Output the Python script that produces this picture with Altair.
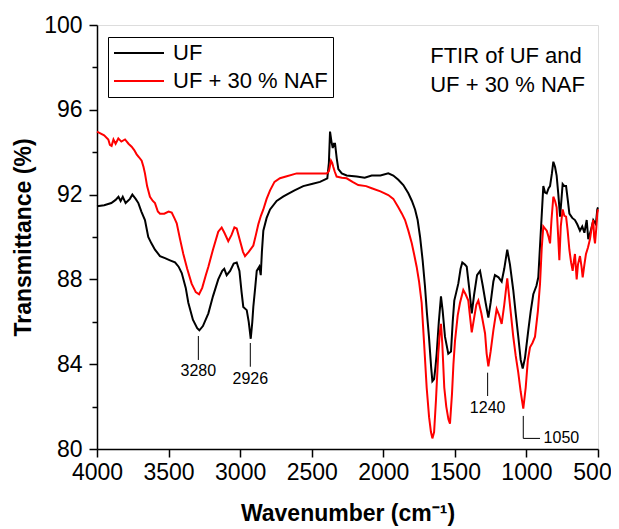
import altair as alt
import pandas as pd

# ---------------- data ----------------
uf_wn = [4000, 3950, 3900, 3870, 3850, 3835, 3820, 3800, 3770, 3753, 3730, 3711, 3690, 3665, 3642,
         3620, 3595, 3560, 3525, 3490, 3455, 3430, 3408, 3380, 3362, 3330, 3300, 3285, 3260, 3222,
         3190, 3153, 3125, 3111, 3094, 3070, 3045, 3024, 3005, 2990, 2978, 2954, 2940, 2926, 2915,
         2908, 2895, 2884, 2866, 2856, 2848, 2838, 2815, 2791, 2745, 2700, 2675, 2620, 2559, 2500,
         2442, 2391, 2380, 2372, 2362, 2353, 2345, 2337, 2325, 2314, 2290, 2256, 2186, 2130, 2081,
         2020, 1965, 1930, 1895, 1860, 1825, 1800, 1778, 1760, 1743, 1725, 1709, 1695, 1681, 1665,
         1657, 1645, 1635, 1627, 1612, 1597, 1585, 1569, 1546, 1527, 1515, 1504, 1490, 1476, 1460,
         1448, 1430, 1417, 1400, 1382, 1365, 1345, 1324, 1305, 1285, 1266, 1250, 1231, 1220, 1195,
         1173, 1155, 1134, 1115, 1092, 1075, 1057, 1040, 1026, 1010, 987, 970, 952, 930, 917,
         900, 882, 870, 858, 845, 835, 822, 812, 800, 789, 777, 765, 755, 747, 735,
         723, 712, 700, 680, 661, 645, 626, 610, 595, 579, 568, 550, 533, 515, 505, 500]
uf_t = [91.45, 91.5, 91.6, 91.75, 91.9, 91.7, 91.9, 91.6, 91.8, 92.0, 91.8, 91.6, 91.2, 90.8, 90.0,
        89.7, 89.4, 89.1, 89.0, 88.9, 88.8, 88.6, 88.3, 87.6, 86.9, 86.1, 85.7, 85.6, 85.8, 86.4,
        87.2, 88.0, 88.4, 88.5, 88.2, 88.4, 88.75, 88.8, 88.4, 87.4, 86.7, 86.55, 86.0, 85.2, 86.0,
        86.7, 87.6, 88.4, 88.6, 88.2, 89.3, 90.3, 90.9, 91.3, 91.7, 91.9, 92.0, 92.2, 92.4, 92.5,
        92.6, 92.77, 93.5, 94.97, 94.5, 94.2, 94.4, 94.4, 93.7, 93.2, 93.0, 92.9, 92.85, 92.8, 92.9,
        92.9, 93.0, 92.9, 92.7, 92.45, 92.06, 91.7, 91.3, 90.8, 90.0, 88.9, 87.7, 86.4, 85.3, 83.8,
        83.2, 83.3, 83.9, 84.5, 86.0, 87.2, 86.5, 85.3, 84.5, 84.6, 86.0, 87.0, 87.4, 87.8, 88.5,
        88.8, 88.7, 88.6, 87.6, 86.4, 87.3, 88.2, 88.4, 87.7, 86.9, 86.2, 86.9, 87.9, 88.2, 88.1,
        87.9, 88.5, 89.4, 88.7, 87.5, 86.4, 85.3, 84.2, 83.8, 84.3, 85.6, 86.5, 87.3, 87.7, 88.1,
        90.2, 92.4, 92.1, 92.06, 92.3, 92.4, 93.0, 93.55, 93.3, 92.9, 92.0, 90.96, 91.8, 92.5, 92.4,
        92.4, 91.8, 91.1, 90.9, 90.8, 90.6, 90.3, 90.5, 90.2, 90.8, 89.9, 90.3, 90.8, 90.6, 91.3, 91.4]

naf_wn = [4000, 3980, 3950, 3921, 3910, 3898, 3885, 3870, 3851, 3830, 3804, 3780, 3758, 3740, 3723,
          3705, 3688, 3675, 3665, 3650, 3630, 3610, 3595, 3575, 3560, 3530, 3500, 3478, 3460, 3443,
          3420, 3397, 3370, 3339, 3310, 3287, 3265, 3240, 3222, 3190, 3153, 3129, 3110, 3083, 3060,
          3040, 3024, 3000, 2980, 2966, 2940, 2908, 2890, 2873, 2855, 2838, 2815, 2791, 2760, 2722,
          2680, 2605, 2550, 2489, 2440, 2395, 2380, 2365, 2357, 2349, 2340, 2326, 2290, 2256, 2215,
          2175, 2120, 2081, 2020, 1965, 1930, 1895, 1870, 1848, 1825, 1801, 1785, 1767, 1750, 1732,
          1715, 1697, 1680, 1667, 1657, 1645, 1632, 1616, 1605, 1597, 1588, 1574, 1560, 1545, 1534,
          1520, 1510, 1499, 1480, 1464, 1441, 1425, 1406, 1395, 1382, 1365, 1350, 1336, 1315, 1289,
          1278, 1266, 1250, 1231, 1208, 1190, 1173, 1155, 1134, 1115, 1092, 1075, 1057, 1040, 1022,
          1005, 990, 975, 958, 940, 920, 905, 893, 882, 870, 858, 845, 835, 825, 812,
          800, 789, 778, 770, 760, 747, 735, 723, 712, 700, 688, 677, 668, 661, 655,
          649, 640, 626, 615, 607, 595, 584, 570, 556, 545, 533, 527, 521, 512, 505, 500]
naf_t = [94.97, 94.9, 94.8, 94.6, 94.35, 94.3, 94.6, 94.4, 94.65, 94.5, 94.6, 94.4, 94.26, 94.1, 93.9,
         93.75, 93.6, 93.3, 93.0, 92.4, 91.9, 91.7, 91.6, 91.2, 91.1, 91.1, 91.2, 91.15, 90.9, 90.65,
         89.9, 89.2, 88.5, 87.8, 87.4, 87.3, 87.6, 88.2, 88.6, 89.4, 90.25, 90.45, 90.2, 89.8, 90.1,
         90.45, 90.4, 89.8, 89.3, 89.1, 89.3, 89.6, 90.1, 90.6, 91.0, 91.3, 91.8, 92.2, 92.6, 92.77,
         92.85, 93.0, 93.0, 93.0, 93.0, 93.0, 93.1, 93.6, 93.5, 93.3, 93.1, 92.85, 92.8, 92.77, 92.6,
         92.45, 92.4, 92.3, 92.15, 91.98, 91.8, 91.4, 91.1, 90.8, 90.3, 89.7, 89.2, 88.6, 87.9, 86.9,
         85.0, 82.9, 81.5, 80.8, 80.5, 80.8, 82.3, 84.5, 85.5, 85.9, 85.0, 82.9, 82.0, 81.4, 81.2,
         82.6, 84.0, 85.1, 86.3, 86.9, 87.5, 87.3, 87.0, 86.3, 85.5, 86.2, 86.8, 87.0, 86.4, 85.45,
         84.5, 83.9, 84.6, 85.6, 86.6, 86.3, 85.9, 86.8, 88.05, 86.8, 85.3, 84.4, 83.6, 82.7, 81.9,
         82.9, 84.2, 84.8, 85.0, 85.3, 86.5, 87.8, 89.5, 90.5, 90.4, 90.3, 90.0, 89.7, 90.8, 91.9,
         91.7, 91.4, 90.0, 88.9, 90.5, 91.3, 91.0, 90.96, 90.3, 89.4, 88.8, 88.4, 88.9, 89.2, 88.6,
         88.0, 88.7, 89.1, 88.6, 88.1, 88.7, 89.2, 89.5, 89.9, 90.4, 90.8, 90.0, 89.7, 90.4, 91.1, 91.3]

series_names = ["UF", "UF + 30 % NAF"]
series_colors = ["#000000", "#ff0000"]

# peak annotations: label, position, line top/bottom, text baseline
ann_labels = ["3280", "2926", "1240"]
ann_wn = [3292, 2929, 1271]
ann_top = [85.33, 85.0, 83.6]
ann_bottom = [84.2, 83.88, 82.5]
ann_text_t = [83.45, 83.08, 81.72]

# bracket-style annotation for 1050
b_label = "1050"
b_wn = 1022
b_wn_end = 905
b_text_wn = 880
b_top = 81.56
b_bottom = 80.5

info_lines = ["FTIR of UF and", "UF + 30 % NAF"]
info_wn = 1672
info_t = [98.2, 96.86]

FONT = "Arial, Liberation Sans, sans-serif"

# ---------------- tables ----------------
df = pd.concat([
    pd.DataFrame({"wn": uf_wn, "T": uf_t, "series": series_names[0]}),
    pd.DataFrame({"wn": naf_wn, "T": naf_t, "series": series_names[1]}),
])
ann_df = pd.DataFrame({"label": ann_labels, "wn": ann_wn, "top": ann_top,
                       "bottom": ann_bottom, "tt": ann_text_t})
b_df = pd.DataFrame({"label": [b_label], "wn": [b_wn], "wn2": [b_wn_end], "tw": [b_text_wn],
                     "top": [b_top], "bottom": [b_bottom]})
info_df = pd.DataFrame({"text": info_lines, "wn": [info_wn] * 2, "T": info_t})

x_scale = alt.Scale(domain=[4000, 500], nice=False, zero=False)
y_scale = alt.Scale(domain=[80, 100], nice=False, zero=False)

x_axis = alt.Axis(
    values=list(range(500, 4001, 250)), format="d",
    labelExpr="datum.value % 500 === 0 ? datum.label : ''",
    tickSize={"condition": {"test": "datum.value % 500 === 0", "value": 8}, "value": 5},
    labelOffset={"condition": {"test": "datum.value === 500", "value": -6}, "value": 0},
    title="Wavenumber (cm⁻¹)", titleFontSize=23, titleFontWeight="bold", titleFont=FONT,
    titleColor="black", titlePadding=18,
    labelFontSize=23, labelFont=FONT, labelColor="black", labelPadding=4,
    domainColor="black", domainWidth=1.5, tickColor="black", tickWidth=1.5, grid=False,
    labelFlush=False, labelOverlap=False,
)
y_axis = alt.Axis(
    values=list(range(80, 101, 2)), format="d",
    labelExpr="datum.value % 4 === 0 ? datum.label : ''",
    tickSize={"condition": {"test": "datum.value % 4 === 0", "value": 8}, "value": 5},
    title="Transmittance (%)", titleFontSize=23, titleFontWeight="bold", titleFont=FONT,
    titleColor="black", titlePadding=8,
    labelFontSize=23, labelFont=FONT, labelColor="black", labelPadding=7,
    domainColor="black", domainWidth=1.5, tickColor="black", tickWidth=1.5, grid=False,
    labelFlush=False, labelOverlap=False,
)

lines = alt.Chart(df).mark_line(strokeWidth=2).encode(
    x=alt.X("wn:Q", scale=x_scale, axis=x_axis),
    y=alt.Y("T:Q", scale=y_scale, axis=y_axis),
    color=alt.Color("series:N", scale=alt.Scale(domain=series_names, range=series_colors),
                    legend=alt.Legend(title=None, orient="none", legendX=11, legendY=12,
                                      symbolType="M-1,0H4", symbolSize=400,
                                      symbolStrokeWidth=2,
                                      labelFontSize=22, labelFont=FONT, labelColor="black",
                                      labelOffset=38, strokeColor="black", fillColor="white",
                                      padding=5, rowPadding=6, cornerRadius=0)),
    detail="series:N",
    order=alt.Order("wn:Q", sort="descending"),
)

ann_rules = alt.Chart(ann_df).mark_rule(color="black", strokeWidth=1).encode(
    x="wn:Q", y="top:Q", y2="bottom:Q")
ann_text = alt.Chart(ann_df).mark_text(fontSize=16, font=FONT, color="black",
                                       align="center", baseline="alphabetic").encode(
    x="wn:Q", y="tt:Q", text="label:N")

b_v = alt.Chart(b_df).mark_rule(color="black", strokeWidth=1).encode(
    x="wn:Q", y="top:Q", y2="bottom:Q")
b_h = alt.Chart(b_df).mark_rule(color="black", strokeWidth=1).encode(
    x="wn:Q", x2="wn2:Q", y="bottom:Q")
b_t = alt.Chart(b_df).mark_text(fontSize=16, font=FONT, color="black",
                                align="left", baseline="middle").encode(
    x="tw:Q", y="bottom:Q", text="label:N")

info = alt.Chart(info_df).mark_text(fontSize=22, font=FONT, color="black",
                                    align="left", baseline="alphabetic").encode(
    x="wn:Q", y="T:Q", text="text:N")

chart = alt.layer(lines, ann_rules, ann_text, b_v, b_h, b_t, info).properties(
    width=501, height=424,
    autosize=alt.AutoSizeParams(type="none"),
    padding={"left": 89, "top": 17, "right": 13, "bottom": 80},
).configure_view(stroke="black", strokeWidth=1.5).configure(background="white")

chart.save("out.html", embed_options={"renderer": "svg", "actions": False})
